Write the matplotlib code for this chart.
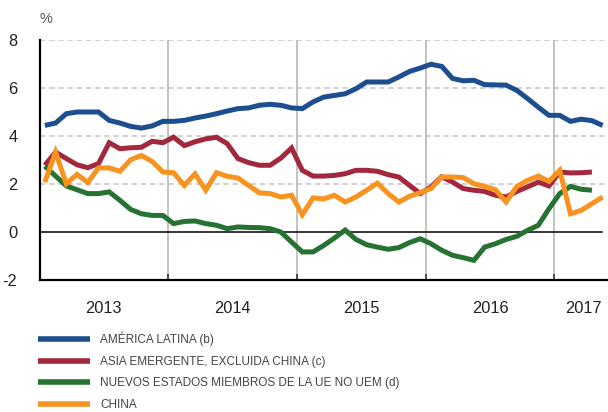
import numpy as np
import matplotlib
matplotlib.use("Agg")
import matplotlib.pyplot as plt
from matplotlib import font_manager

# monthly data, Jan 2013 onwards
america_latina = [4.44, 4.54, 4.93, 5.0, 5.0, 5.0, 4.65, 4.54, 4.4, 4.33, 4.42, 4.61,
                  4.61, 4.65, 4.75, 4.83, 4.93, 5.04, 5.14, 5.17, 5.28, 5.32, 5.28, 5.17,
                  5.14, 5.42, 5.62, 5.69, 5.76, 5.97, 6.25, 6.25, 6.25, 6.46, 6.69, 6.83,
                  6.99, 6.9, 6.4, 6.3, 6.32, 6.14, 6.13, 6.12, 5.9, 5.56, 5.2, 4.86,
                  4.86, 4.61, 4.7, 4.64, 4.44]
asia_emergente = [2.78, 3.33, 3.06, 2.8, 2.68, 2.85, 3.72, 3.47, 3.51, 3.53, 3.78, 3.72,
                  3.95, 3.6, 3.76, 3.88, 3.95, 3.68, 3.06, 2.89, 2.78, 2.78, 3.08, 3.5,
                  2.57, 2.33, 2.33, 2.36, 2.43, 2.57, 2.57, 2.53, 2.39, 2.29, 1.94, 1.6,
                  1.88, 2.3, 2.08, 1.81, 1.74, 1.69, 1.53, 1.46, 1.69, 1.88, 2.08, 1.92,
                  2.5, 2.46, 2.47, 2.5]
nuevos_estados = [2.74, 2.33, 1.92, 1.76, 1.6, 1.6, 1.67, 1.32, 0.94, 0.76, 0.69, 0.69,
                  0.35, 0.44, 0.46, 0.35, 0.28, 0.14, 0.21, 0.19, 0.18, 0.14, 0.0, -0.42,
                  -0.83, -0.83, -0.56, -0.25, 0.08, -0.31, -0.53, -0.63, -0.72, -0.65, -0.44, -0.28,
                  -0.49, -0.76, -0.97, -1.07, -1.18, -0.63, -0.49, -0.31, -0.18, 0.07, 0.28, 0.97,
                  1.6, 1.9, 1.78, 1.74]
china = [2.08, 3.33, 2.01, 2.4, 2.06, 2.67, 2.67, 2.53, 3.01, 3.19, 2.94, 2.5,
         2.47, 1.94, 2.42, 1.74, 2.47, 2.32, 2.25, 1.94, 1.63, 1.6, 1.46, 1.53,
         0.72, 1.42, 1.38, 1.53, 1.25, 1.46, 1.74, 2.04, 1.6, 1.25, 1.49, 1.64,
         1.81, 2.29, 2.29, 2.27, 2.01, 1.9, 1.76, 1.25, 1.9, 2.15, 2.33, 2.11,
         2.57, 0.76, 0.9, 1.18, 1.46]

labels = ["AMÉRICA LATINA (b)", "ASIA EMERGENTE, EXCLUIDA CHINA (c)",
          "NUEVOS ESTADOS MIEMBROS DE LA UE NO UEM (d)", "CHINA"]
colors = ["#1d4e8f", "#a3283e", "#267232", "#f7931e"]
years = ["2013", "2014", "2015", "2016", "2017"]
yticks = [-2, 0, 2, 4, 6, 8]

available = {f.name for f in font_manager.fontManager.ttflist}
base_font = "Liberation Sans" if "Liberation Sans" in available else "DejaVu Sans"
narrow = "Liberation Sans Narrow" in available
plt.rcParams["font.family"] = [base_font, "DejaVu Sans"]

fig = plt.figure(figsize=(6.08, 4.12), dpi=100)
ax = fig.add_axes([39.5 / 608, 1 - 280 / 412, 1 - 39.5 / 608, 240 / 412])

series = [america_latina, asia_emergente, nuevos_estados, china]
handles = []
for vals, col, lab in zip(series, colors, labels):
    x = np.arange(len(vals)) + 0.5
    h, = ax.plot(x, vals, color=col, lw=3.6, label=lab, solid_joinstyle="miter",
                 solid_capstyle="butt", zorder=3)
    handles.append(h)

ax.set_xlim(0, 53)
ax.set_ylim(-2, 8)

# grid
for yv in [2, 4, 6, 8]:
    ax.axhline(yv, color="#c4c4c4", lw=1.1, ls=(0, (3.5, 2.5)), zorder=1)
for xv in [12, 24, 36, 48]:
    ax.axvline(xv, color="#bdbdbd", lw=1.3, zorder=1)
ax.axhline(0, color="black", lw=1.1, xmax=0.989, zorder=2)

for s in ["top", "right"]:
    ax.spines[s].set_visible(False)
for s in ["left", "bottom"]:
    ax.spines[s].set_linewidth(1.6)
    ax.spines[s].set_color("black")

ax.set_yticks(yticks)
ax.set_yticklabels([str(v) for v in yticks])
ax.tick_params(axis="y", length=0, pad=16, labelsize=11.8, labelcolor="#222222")

ax.set_xticks([0, 12, 24, 36, 48])
ax.set_xticklabels([])
ax.tick_params(axis="x", which="major", direction="in", length=4, width=1.3, color="#444444")
ax.set_xticks([6, 18, 30, 42, 50.7], minor=True)
ax.set_xticklabels(years, minor=True)
ax.tick_params(axis="x", which="minor", length=0, pad=15, labelsize=11.8, labelcolor="#222222")

fig.text(39.5 / 608, 1 - 19 / 412, "%", fontsize=10.5, color="#555555", va="center", ha="left")

if narrow:
    leg_font = dict(family=["Liberation Sans Narrow", "DejaVu Sans"], size=9.6)
else:
    leg_font = dict(family=[base_font, "DejaVu Sans"], size=8.5)
leg = fig.legend(handles=handles, loc="upper left", bbox_to_anchor=(38 / 608, 1 - 332 / 412),
                 frameon=False, borderpad=0, borderaxespad=0, handlelength=4.4,
                 handletextpad=0.85, labelspacing=0.8, prop=leg_font)
for t in leg.get_texts():
    t.set_color("#444444")
for l in leg.get_lines():
    l.set_linewidth(4.0)

fig.savefig("out.png", dpi=100)
